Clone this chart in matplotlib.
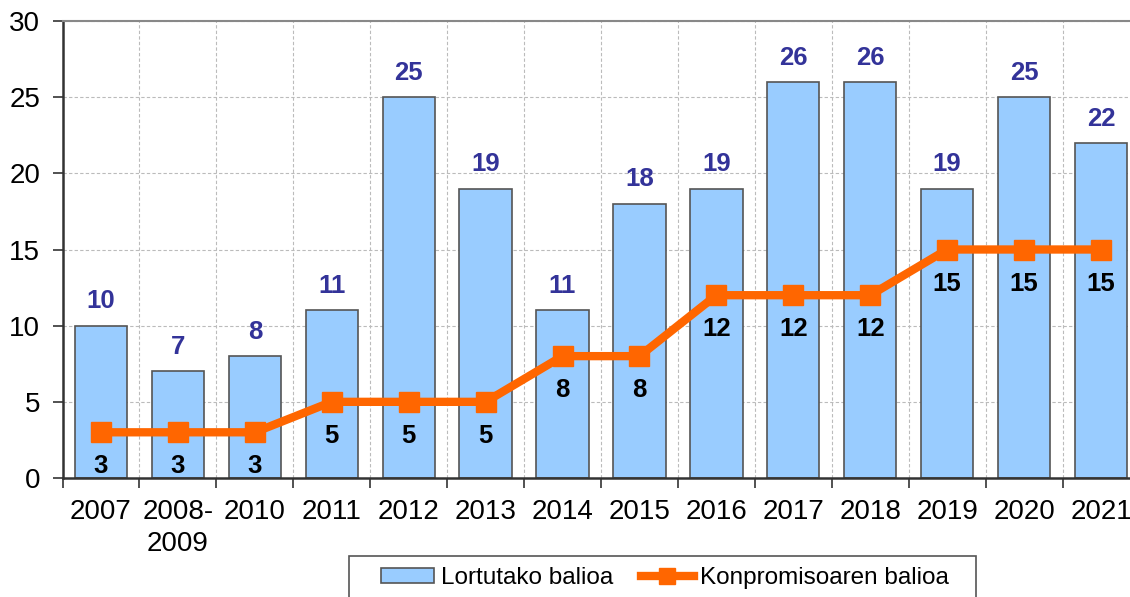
import numpy as np
import matplotlib.pyplot as plt
from matplotlib.lines import Line2D
from matplotlib.patches import Patch, Rectangle

plt.rcParams['font.family'] = ['Liberation Sans', 'DejaVu Sans']

years = ['2007', '2008-\n2009', '2010', '2011', '2012', '2013', '2014',
         '2015', '2016', '2017', '2018', '2019', '2020', '2021']
lortutako = [10, 7, 8, 11, 25, 19, 11, 18, 19, 26, 26, 19, 25, 22]
konpromisoa = [3, 3, 3, 5, 5, 5, 8, 8, 12, 12, 12, 15, 15, 15]

bar_color = '#99CCFF'
line_color = '#FF6600'
label_blue = '#333399'

W, H = 1130, 597
fig = plt.figure(figsize=(W/100, H/100), dpi=100)
ax = fig.add_axes([62.5/W, 1-478/H, 1077/W, 457/H])

x = np.arange(len(years))
ax.bar(x, lortutako, width=0.68, color=bar_color, edgecolor='#555555',
       linewidth=1.2, zorder=2)
ax.plot(x, konpromisoa, color=line_color, linewidth=6, marker='s',
        markersize=15, zorder=3, solid_joinstyle='miter')

for xi, v in zip(x, lortutako):
    ax.annotate(str(v), (xi, v), xytext=(0, 17.5), textcoords='offset points',
                ha='center', va='center', fontsize=18.5, fontweight='bold',
                color=label_blue, zorder=4)
for xi, v in zip(x, konpromisoa):
    ax.annotate(str(v), (xi, v), xytext=(0, -24.5), textcoords='offset points',
                ha='center', va='center', fontsize=18.5, fontweight='bold',
                color='black', zorder=4)

ax.set_xlim(-0.5, len(years) - 0.5)
ax.set_ylim(0, 30)
ax.set_yticks(np.arange(0, 31, 5))
ax.set_xticks(x)
ax.set_xticklabels(years, fontsize=20, linespacing=1.3)
ax.set_xticks(np.arange(-0.5, len(years), 1), minor=True)
ax.tick_params(axis='x', which='major', length=0, pad=15)
ax.tick_params(axis='x', which='minor', length=7, width=1.2, color='#333333',
               direction='out')
ax.tick_params(axis='y', length=7, width=1.2, color='#333333', pad=9,
               labelsize=20)

ax.grid(axis='y', which='major', linestyle=(0, (3, 2)), color='#BBBBBB',
        linewidth=0.8, zorder=0)
ax.grid(axis='x', which='minor', linestyle=(0, (3, 2)), color='#BBBBBB',
        linewidth=0.8, zorder=0)
ax.set_axisbelow(True)

for side in ['left', 'bottom']:
    ax.spines[side].set_color('#333333')
    ax.spines[side].set_linewidth(1.8)
ax.spines['top'].set_color('#888888')
ax.spines['top'].set_linewidth(1.5)
ax.spines['right'].set_visible(False)

# legend frame drawn by hand, runs off the bottom edge like the original
fig.patches.append(Rectangle((349/W, -0.05), (976-349)/W, 0.05 + 1-556/H,
                             transform=fig.transFigure, facecolor='white',
                             edgecolor='#555555', linewidth=1.2, zorder=5))

handles = [Patch(facecolor=bar_color, edgecolor='#555555', linewidth=1.2),
           Line2D([], [], color=line_color, linewidth=6, marker='s',
                  markersize=11)]
leg = fig.legend(handles, ['Lortutako balioa', 'Konpromisoaren balioa'],
                 loc='upper left', bbox_to_anchor=(381/W, 1-567/H),
                 ncol=2, fontsize=17.5, frameon=False,
                 handlelength=2.2, handleheight=0.58, columnspacing=1.15,
                 borderpad=0, borderaxespad=0, handletextpad=0.25)
leg.set_zorder(6)

fig.savefig('out.png', dpi=100)
